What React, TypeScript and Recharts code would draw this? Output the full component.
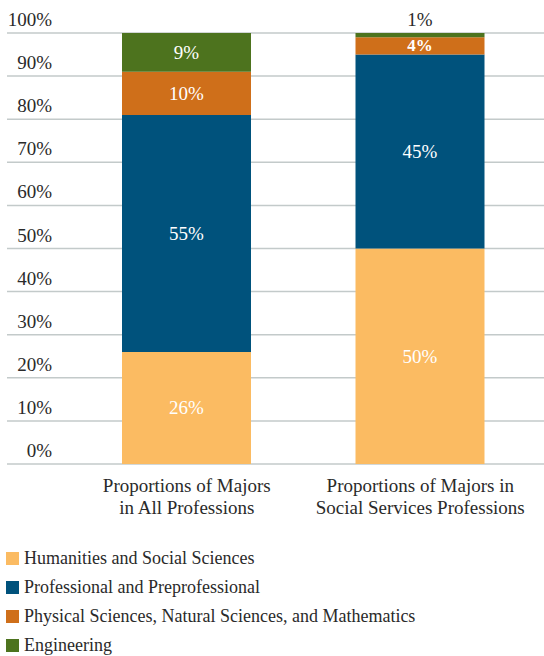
import { Bar, BarChart, CartesianGrid, LabelList, XAxis, YAxis } from "recharts"

const categories = ["Proportions of Majors\nin All Professions", "Proportions of Majors in\nSocial Services Professions"]
const humanities = [26, 50]
const professional = [55, 45]
const physical = [10, 4]
const engineering = [9, 1]
const yTicks = [0, 10, 20, 30, 40, 50, 60, 70, 80, 90, 100]

const series = [
  { key: "humanities", name: "Humanities and Social Sciences", color: "#fbbb62" },
  { key: "professional", name: "Professional and Preprofessional", color: "#00527c" },
  { key: "physical", name: "Physical Sciences, Natural Sciences, and Mathematics", color: "#cf6f1a" },
  { key: "engineering", name: "Engineering", color: "#4d731e" },
]

const data = categories.map((name, i) => ({
  name,
  humanities: humanities[i],
  professional: professional[i],
  physical: physical[i],
  engineering: engineering[i],
}))

const FONT = "Liberation Serif"
const TEXT = "#2a2a2a"

const YTick = (props: any) => {
  const { y, payload } = props
  return (
    <text x={52} y={y - 7} textAnchor="end" fontSize={19} style={{ fontFamily: FONT }} fill={TEXT}>
      {`${payload.value}%`}
    </text>
  )
}

const XTick = (props: any) => {
  const { x, y, payload } = props
  const lines = String(payload.value).split("\n")
  return (
    <text x={x} y={y} textAnchor="middle" fontSize={19} style={{ fontFamily: FONT }} fill={TEXT}>
      {lines.map((l, i) => (
        <tspan key={i} x={x} dy={i === 0 ? 20 : 22}>
          {l}
        </tspan>
      ))}
    </text>
  )
}

const SegLabel = (props: any) => {
  const { x, y, width, height, value } = props
  if (height < 10) {
    return (
      <text x={x + width / 2} y={y - 7} textAnchor="middle" fontSize={19} style={{ fontFamily: FONT }} fill={TEXT}>
        {`${value}%`}
      </text>
    )
  }
  const small = height < 25
  return (
    <text
      x={x + width / 2}
      y={y + height / 2}
      textAnchor="middle"
      dominantBaseline="central"
      fontSize={small ? 17 : 19}
      fontWeight={small ? "bold" : "normal"}
      style={{ fontFamily: FONT }}
      fill="#ffffff"
    >
      {`${value}%`}
    </text>
  )
}

export default function App() {
  return (
    <div style={{ position: "absolute", left: 0, top: 0, width: 544, height: 656, background: "#fff", fontFamily: FONT }}>
      <BarChart width={544} height={530} data={data} margin={{ top: 33, right: 0, bottom: 0, left: 6 }}>
        <CartesianGrid horizontal vertical={false} stroke="#c3caca" strokeWidth={1.5} />
        <XAxis
          dataKey="name"
          padding={{ left: 63, right: 7 }}
          axisLine={false}
          tickLine={false}
          tick={<XTick />}
          interval={0}
          height={66}
        />
        <YAxis width={1} domain={[0, 100]} ticks={yTicks} axisLine={false} tickLine={false} tick={<YTick />} interval={0} />
        {series.map((s) => (
          <Bar key={s.key} dataKey={s.key} name={s.name} stackId="a" fill={s.color} barSize={129} isAnimationActive={false}>
            <LabelList dataKey={s.key} content={<SegLabel />} />
          </Bar>
        ))}
      </BarChart>
      <div style={{ position: "absolute", left: 6, top: 544, fontFamily: FONT, fontSize: 18, color: TEXT }}>
        {series.map((s) => (
          <div key={s.key} style={{ display: "flex", alignItems: "center", height: 29 }}>
            <span style={{ width: 13, height: 13, background: s.color, marginRight: 5, display: "inline-block" }} />
            <span>{s.name}</span>
          </div>
        ))}
      </div>
    </div>
  )
}
